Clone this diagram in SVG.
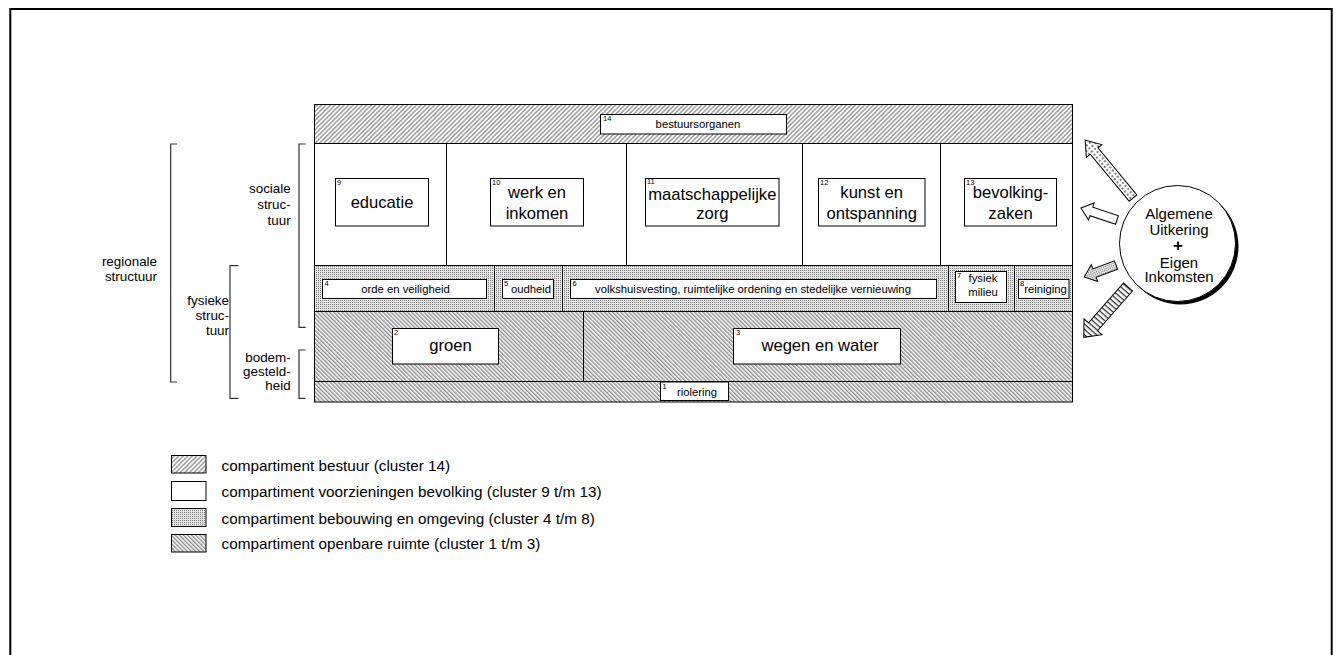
<svg xmlns="http://www.w3.org/2000/svg" width="1338" height="655" viewBox="0 0 1338 655">
<style>
text{font-family:"Liberation Sans",Arial,sans-serif;fill:#000}
.big{font-size:16.6px;text-anchor:middle}
.sm{font-size:11.3px;text-anchor:middle}
.num{font-size:7.5px}
.lbl{font-size:13.4px;text-anchor:end}
.leg{font-size:15.3px}
.circ{font-size:15px;text-anchor:middle}
.box{fill:#fff;stroke:#000;stroke-width:1}
.band{stroke:#000;stroke-width:1}
.div{stroke:#000;stroke-width:1;fill:none}
.br{stroke:#333;stroke-width:1.2;fill:none}
.arr{stroke:#000;stroke-width:1}
</style>
<defs>
<pattern id="hatchF" patternUnits="userSpaceOnUse" width="3.2" height="10" patternTransform="rotate(45)">
<rect width="3.2" height="10" fill="#fff"/>
<line x1="0.8" y1="0" x2="0.8" y2="10" stroke="#222" stroke-width="0.75"/>
</pattern>
<pattern id="hatchB" patternUnits="userSpaceOnUse" width="2.9" height="10" patternTransform="rotate(-45)">
<rect width="2.9" height="10" fill="#fff"/>
<line x1="0.8" y1="0" x2="0.8" y2="10" stroke="#222" stroke-width="0.75"/>
</pattern>
<pattern id="dots" patternUnits="userSpaceOnUse" width="2" height="2">
<rect width="2" height="2" fill="#e6e6e6"/>
<rect width="1" height="1" fill="#7a7a7a"/>
</pattern>
<pattern id="dotsL" patternUnits="userSpaceOnUse" width="4" height="4">
<rect width="4" height="4" fill="#fff"/>
<circle cx="2" cy="2" r="0.9" fill="#444"/>
</pattern>
<pattern id="stripes" patternUnits="userSpaceOnUse" width="4" height="4">
<rect width="4" height="4" fill="#fff"/>
<rect width="1.3" height="4" fill="#333"/>
</pattern>
</defs>

<rect width="1338" height="655" fill="#fff"/>
<path d="M10.3,656 V9 H1331.7 V656" fill="none" stroke="#000" stroke-width="2"/>

<g id="block">
<rect class="band" x="314.5" y="104.5" width="758" height="39" fill="url(#hatchF)"/>
<rect class="band" x="314.5" y="143.5" width="758" height="122" fill="#fff"/>
<rect class="band" x="314.5" y="265.5" width="758" height="46" fill="url(#dots)"/>
<rect class="band" x="314.5" y="311.5" width="758" height="70" fill="url(#hatchB)"/>
<rect class="band" x="314.5" y="381.5" width="758" height="20.5" fill="url(#hatchB)"/>
<path class="div" d="M446.5,143.5V265.5 M626.5,143.5V265.5 M802.5,143.5V265.5 M940.5,143.5V265.5 M494.5,265.5V311.5 M562.5,265.5V311.5 M948.5,265.5V311.5 M1014.5,265.5V311.5 M583.5,311.5V381.5"/>
</g>

<g id="n14">
<rect class="box" x="600.5" y="114.5" width="186" height="19.5"/>
<text class="num" x="603" y="121">14</text>
<text class="sm" x="698" y="128">bestuursorganen</text>
</g>

<g id="n9">
<rect class="box" x="335.5" y="178.5" width="93" height="47.5"/>
<text class="num" x="337" y="184.5">9</text>
<text class="big" x="382" y="207.5">educatie</text>
</g>
<g id="n10">
<rect class="box" x="490.5" y="178.5" width="93" height="47.5"/>
<text class="num" x="492" y="184.5">10</text>
<text class="big" x="537" y="198">werk en</text>
<text class="big" x="537" y="218.5">inkomen</text>
</g>
<g id="n11">
<rect class="box" x="645.5" y="178.5" width="133.5" height="47.5"/>
<text class="num" x="647" y="183.8">11</text>
<text class="big" x="712.3" y="199.5">maatschappelijke</text>
<text class="big" x="712.3" y="219">zorg</text>
</g>
<g id="n12">
<rect class="box" x="818.5" y="178.5" width="106.5" height="47.5"/>
<text class="num" x="820" y="184.5">12</text>
<text class="big" x="871.7" y="198">kunst en</text>
<text class="big" x="871.7" y="218.5">ontspanning</text>
</g>
<g id="n13">
<rect class="box" x="964.5" y="178.5" width="92" height="47.5"/>
<text class="num" x="966" y="184.5">13</text>
<text class="big" x="1010.5" y="198">bevolking-</text>
<text class="big" x="1010.5" y="218.5">zaken</text>
</g>

<g id="n4">
<rect class="box" x="322.5" y="279.5" width="164" height="19"/>
<text class="num" x="324.5" y="285.5">4</text>
<text class="sm" x="405.5" y="292.8">orde en veiligheid</text>
</g>
<g id="n5">
<rect class="box" x="502.5" y="279.5" width="51" height="19"/>
<text class="num" x="504" y="285.5">5</text>
<text class="sm" x="531" y="292.8">oudheid</text>
</g>
<g id="n6">
<rect class="box" x="570.5" y="279.5" width="366" height="19"/>
<text class="num" x="572.5" y="285.5">6</text>
<text class="sm" x="753" y="292.8">volkshuisvesting, ruimtelijke ordening en stedelijke vernieuwing</text>
</g>
<g id="n7">
<rect class="box" x="955.5" y="271.5" width="51" height="31"/>
<text class="num" x="957" y="277.5">7</text>
<text class="sm" x="983" y="282.3">fysiek</text>
<text class="sm" x="983" y="295.7">milieu</text>
</g>
<g id="n8">
<rect class="box" x="1018.5" y="279.5" width="50.5" height="19"/>
<text class="num" x="1020" y="285.5">8</text>
<text class="sm" x="1045.5" y="292.8">reiniging</text>
</g>

<g id="n2">
<rect class="box" x="392.5" y="328.5" width="106" height="35.5"/>
<text class="num" x="394" y="335">2</text>
<text class="big" x="450.5" y="351">groen</text>
</g>
<g id="n3">
<rect class="box" x="733.5" y="328.5" width="167" height="35.5"/>
<text class="num" x="736" y="335">3</text>
<text class="big" x="820" y="351">wegen en water</text>
</g>
<g id="n1">
<rect class="box" x="660.5" y="382" width="68" height="18.5"/>
<text class="num" x="662.5" y="388.5">1</text>
<text class="sm" x="697" y="395.5">riolering</text>
</g>

<g id="brackets">
<path class="br" d="M177,144 H170.7 V382 H177"/>
<path class="br" d="M305.7,144 H299 V327.3 H305.7"/>
<path class="br" d="M238.3,265.7 H230 V398.3 H238.3"/>
<path class="br" d="M305.7,350 H299 V398.3 H305.7"/>
<text class="lbl" x="157" y="266">regionale</text>
<text class="lbl" x="157" y="281">structuur</text>
<text class="lbl" x="290.7" y="193">sociale</text>
<text class="lbl" x="290.7" y="209">struc-</text>
<text class="lbl" x="290.7" y="225">tuur</text>
<text class="lbl" x="229" y="305">fysieke</text>
<text class="lbl" x="229" y="320">struc-</text>
<text class="lbl" x="229" y="335">tuur</text>
<text class="lbl" x="290.7" y="362">bodem-</text>
<text class="lbl" x="290.7" y="376">gesteld-</text>
<text class="lbl" x="290.7" y="390">heid</text>
</g>

<g id="source">
<circle cx="1180.5" cy="246.5" r="58" fill="#000"/>
<circle cx="1177.5" cy="243.5" r="58" fill="#fff" stroke="#000" stroke-width="1"/>
<text class="circ" x="1179" y="218.5">Algemene</text>
<text class="circ" x="1179" y="234.5">Uitkering</text>
<text class="circ" x="1178" y="251" style="font-size:17px;font-weight:bold">+</text>
<text class="circ" x="1179" y="267.5">Eigen</text>
<text class="circ" x="1179" y="282">Inkomsten</text>
</g>

<g id="connectors">
<path class="arr" fill="url(#dotsL)" transform="translate(1133,198) rotate(-129.6)" d="M0,-5 H61 V-10 L75,0 L61,10 V5 H0 Z"/>
<path class="arr" fill="#fff" transform="translate(1117,220) rotate(198.4)" d="M0,-4.5 H27 V-9 L38,0 L27,9 V4.5 H0 Z"/>
<path class="arr" fill="url(#dots)" transform="translate(1116,265) rotate(159.4)" d="M0,-4.5 H23 V-9 L34,0 L23,9 V4.5 H0 Z"/>
<path class="arr" fill="url(#stripes)" transform="translate(1128,287) rotate(131.3)" d="M0,-6 H53 V-12 L67,0 L53,12 V6 H0 Z"/>
</g>

<g id="legend">
<rect x="171.5" y="455.5" width="34.5" height="17.5" fill="url(#hatchF)" stroke="#000"/>
<rect x="171.5" y="481.5" width="34.5" height="19" fill="#fff" stroke="#000"/>
<rect x="171.5" y="508.5" width="34.5" height="18" fill="url(#dots)" stroke="#000"/>
<rect x="171.5" y="534.5" width="34.5" height="17.5" fill="url(#hatchB)" stroke="#000"/>
<text class="leg" x="221.5" y="470.5">compartiment bestuur (cluster 14)</text>
<text class="leg" x="221.5" y="497">compartiment voorzieningen bevolking (cluster 9 t/m 13)</text>
<text class="leg" x="221.5" y="523.5">compartiment bebouwing en omgeving (cluster 4 t/m 8)</text>
<text class="leg" x="221.5" y="549">compartiment openbare ruimte (cluster 1 t/m 3)</text>
</g>
</svg>
